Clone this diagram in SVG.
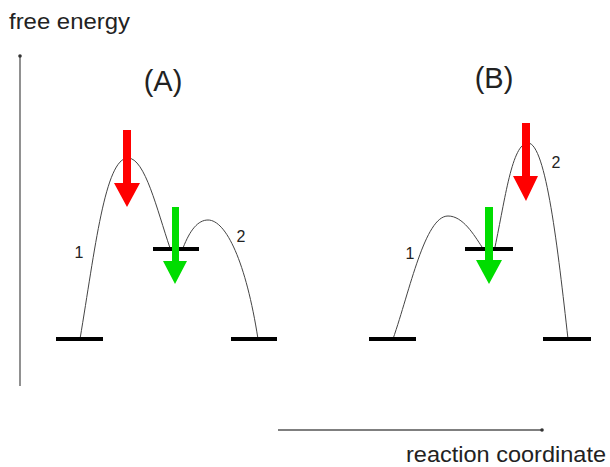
<svg xmlns="http://www.w3.org/2000/svg" width="610" height="467" viewBox="0 0 610 467">
<style>
text{font-family:"Liberation Sans",Arial,sans-serif;fill:#222}
.lbl{font-size:22px}
.title{font-size:29px}
.num{font-size:16px}
.curve{fill:none;stroke:#444;stroke-width:1}
.axis{fill:none;stroke:#555;stroke-width:1.3}
.lvl{stroke:#000;stroke-width:4}
.red{fill:#f00}
.green{fill:#0d0}
</style>
<rect width="610" height="467" fill="#fff"/>
<g id="axes">
<line class="axis" x1="20" y1="56" x2="20" y2="386"/>
<circle cx="20" cy="56" r="1.8" fill="#333"/>
<line class="axis" x1="278" y1="430" x2="542" y2="430"/>
<circle cx="542" cy="430" r="1.8" fill="#333"/>
<text class="lbl" x="9" y="29" textLength="121" lengthAdjust="spacingAndGlyphs">free energy</text>
<text class="lbl" x="406" y="462" textLength="200" lengthAdjust="spacingAndGlyphs">reaction coordinate</text>
</g>
<g id="panelA">
<text class="title" x="163" y="91" text-anchor="middle">(A)</text>
<g id="connectors-A">
<path class="curve" d="M80,339 C95,250 105,158 128,158 C145,158 157,210 170,248"/>
<path class="curve" d="M183,248 C190,230 198,220 208,220 C226,220 246,262 258,339"/>
</g>
<line class="lvl" x1="56" y1="339" x2="103" y2="339"/>
<line class="lvl" x1="153" y1="249" x2="199" y2="249"/>
<line class="lvl" x1="231" y1="339" x2="277" y2="339"/>
<text class="num" x="79" y="258" text-anchor="middle">1</text>
<text class="num" x="241" y="242" text-anchor="middle">2</text>
<polygon class="red" points="123,130 131,130 131,183 140,183 127,207 114,183 123,183"/>
<polygon class="green" points="172,207 179,207 179,261 187,261 175,284 163,261 172,261"/>
</g>
<g id="panelB">
<text class="title" x="494" y="88" text-anchor="middle">(B)</text>
<g id="connectors-B">
<path class="curve" d="M393,339 C410,290 425,216 448,216 C463,216 474,235 482,247"/>
<path class="curve" d="M495,247 C505,200 512,143 528,143 C546,143 558,250 568,339"/>
</g>
<line class="lvl" x1="369" y1="339" x2="416" y2="339"/>
<line class="lvl" x1="465" y1="249" x2="513" y2="249"/>
<line class="lvl" x1="543" y1="339" x2="591" y2="339"/>
<text class="num" x="410" y="259" text-anchor="middle">1</text>
<text class="num" x="556" y="168" text-anchor="middle">2</text>
<polygon class="red" points="522,123 530,123 530,176 538,176 526,201 513,176 522,176"/>
<polygon class="green" points="485,207 493,207 493,260 502,260 489,284 476,260 485,260"/>
</g>
</svg>
